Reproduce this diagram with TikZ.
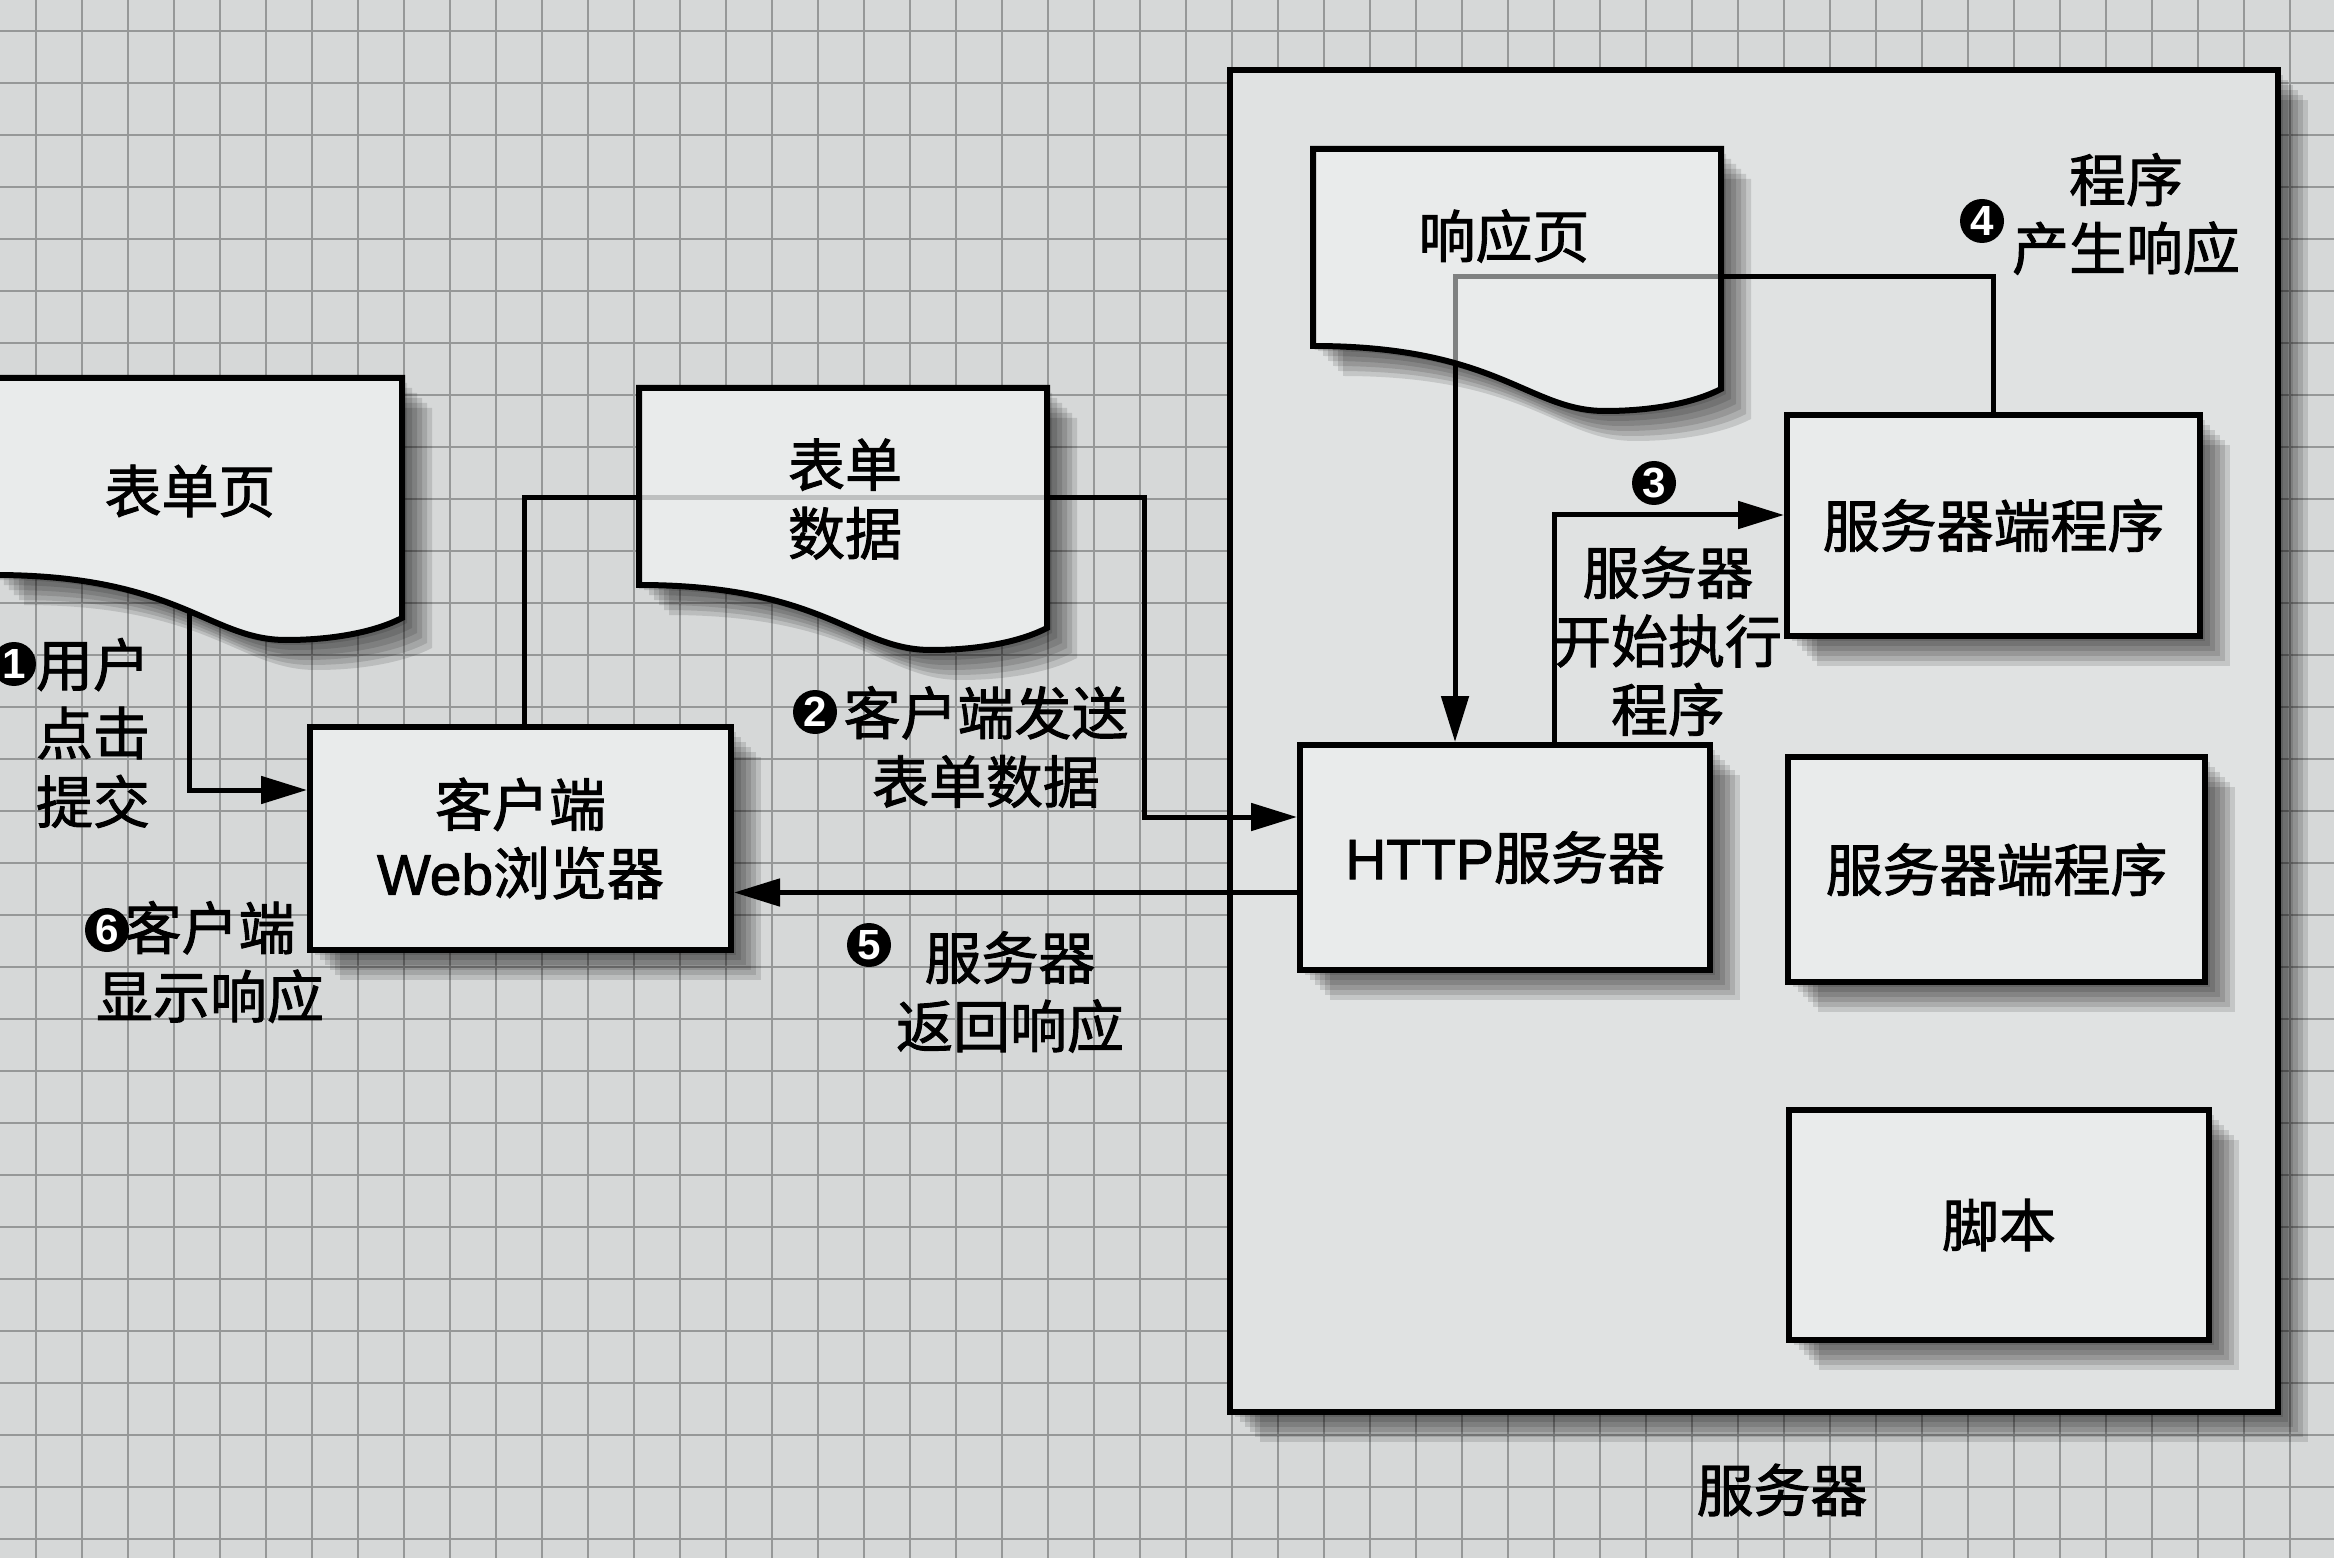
\documentclass[tikz,border=0pt]{standalone}
\usepackage{fontspec}
\setmainfont{Noto Sans CJK SC}[RawFeature={embolden=1.6}]
\newfontfamily\lat{Liberation Sans}[RawFeature={embolden=1.6}]
\newfontfamily\latb{Liberation Sans Bold}
\usetikzlibrary{arrows.meta,calc}
\definecolor{bgc}{RGB}{214,216,216}
\definecolor{boxc}{RGB}{233,235,235}
\definecolor{srvc}{RGB}{224,226,226}
\definecolor{gridc}{RGB}{150,152,152}
\newcommand\lbfont{\fontsize{16.2pt}{19.5pt}\selectfont}
\newcommand\numfont{\latb\fontsize{12pt}{12pt}\selectfont}
\newcommand\docshape[3]{\path[#1,shift={(#2,#3)}] (0,0) -- (408,0) -- (408,240) .. controls (385,252) and (345,262) .. (292,262) .. controls (215,262) and (185,197) .. (0,197) -- cycle;}
\tikzset{
  shadowed/.style={
    preaction={fill=black,opacity=.12,draw=none,transform canvas={xshift=0.5mm,yshift=-0.5mm}},
    preaction={fill=black,opacity=.12,draw=none,transform canvas={xshift=1.0mm,yshift=-1.0mm}},
    preaction={fill=black,opacity=.12,draw=none,transform canvas={xshift=1.5mm,yshift=-1.5mm}},
    preaction={fill=black,opacity=.12,draw=none,transform canvas={xshift=2.0mm,yshift=-2.0mm}},
    preaction={fill=black,opacity=.12,draw=none,transform canvas={xshift=2.5mm,yshift=-2.5mm}},
    preaction={fill=black,opacity=.12,draw=none,transform canvas={xshift=3.0mm,yshift=-3.0mm}}},
  bx/.style={shadowed, draw=black, line width=0.6mm, fill=boxc, inner sep=0, align=center, font=\lbfont},
  lbl/.style={inner sep=0, align=center, font=\lbfont},
  num/.style={circle, fill=black, text=white, inner sep=0, minimum size=4.4mm, font=\numfont},
  conn/.style={line width=0.5mm, -{Triangle[length=4.6mm,width=2.7mm]}},
  gridline/.style={gridc, line width=0.22mm},
  docline/.style={draw=black, line width=0.6mm, fill=boxc}
}
\begin{document}
\begin{tikzpicture}[x=0.1mm,y=-0.1mm]
\useasboundingbox (0,0) rectangle (2334,1558);
% paper and grid
\fill[bgc] (0,0) rectangle (2334,1558);
\foreach \i in {0,...,50} {\draw[gridline] ({36+\i*46},0) -- ({36+\i*46},1558);}
\foreach \j in {0,...,29} {\draw[gridline] (0,{31+\j*52}) -- (2334,{31+\j*52});}

% server frame
\node[shadowed, draw=black, line width=0.6mm, fill=srvc, minimum width=104.8mm, minimum height=134.2mm, inner sep=0] (server) at (1754,741) {};

% document bases (shadow + opaque fill)
\docshape{shadowed, fill=boxc}{-6}{378}
\docshape{shadowed, fill=boxc}{639}{388}
\docshape{shadowed, fill=boxc}{1313}{149}

% boxes
\node[bx, minimum width=42.1mm, minimum height=22.3mm] (client) at (520.5,838.5) {客户端\\{\lat Web}浏览器};
\node[bx, minimum width=41mm, minimum height=22.5mm] (http) at (1505,857.5) {{\lat HTTP}服务器};
\node[bx, minimum width=41.3mm, minimum height=22.1mm] (sp1) at (1993.5,525.5) {服务器端程序};
\node[bx, minimum width=41.7mm, minimum height=22.5mm] (sp2) at (1996.5,869.5) {服务器端程序};
\node[bx, minimum width=42mm, minimum height=23mm] (script) at (1999,1225) {脚本};

% connectors
\coordinate (c1s) at (189,612);
\draw[conn] (c1s) |- ($(client.west)+(0,-48.5)$);
\coordinate (c2a) at (1144,498);
\draw[conn] ($(client.north)+(3.5,0)$) |- (c2a) |- ($(http.west)+(0,-40.5)$);
\draw[conn] ($(http.west)+(0,35)$) -- ($(client.east)+(0,54)$);
\draw[conn] ($(http.north)+(49,0)$) |- ($(sp1.west)+(0,-10.5)$);
\coordinate (c5a) at (1455,277);
\draw[conn] (sp1.north) |- (c5a) -- (c5a |- http.north);

% document overlays (lines show through)
\docshape{docline, fill opacity=0.9}{-6}{378}
\docshape{docline, fill opacity=0.82}{639}{388}
\docshape{docline, fill opacity=0.55}{1313}{149}

% document texts
\node[lbl] (formpage) at (190,491) {表单页};
\node[lbl] (formdata) at (845,499) {表单\\数据};
\node[lbl] (respage) at (1504,236) {响应页};

% step labels
\node[num] (n1) at (14,664) {1};
\node[lbl] (l1) at (93,733) {用户\\点击\\提交};
\node[num] (n2) at (815,712) {2};
\node[lbl] (l2) at (986,747) {客户端发送\\表单数据};
\node[num] (n3) at (1654,483) {3};
\node[lbl] (l3) at (1668,641) {服务器\\开始执行\\程序};
\node[num] (n4) at (1982,221) {4};
\node[lbl] (l4) at (2126,214) {程序\\产生响应};
\node[num] (n5) at (869,945) {5};
\node[lbl] (l5) at (1010,992) {服务器\\返回响应};
\node[num] (n6) at (107,930) {6};
\node[lbl] (l6) at (210,962) {客户端\\显示响应};
\node[lbl] (srvlabel) at (1782,1490) {服务器};
\end{tikzpicture}
\end{document}
